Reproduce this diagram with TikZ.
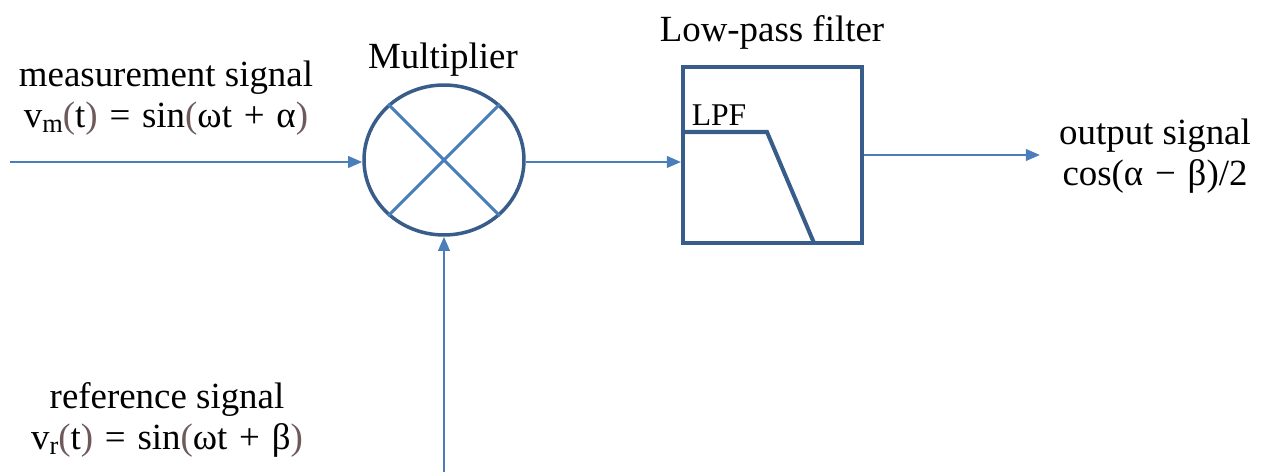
\documentclass[tikz,border=0pt]{standalone}
\usepackage{fontspec}
\setmainfont{Liberation Serif}
\usepackage{xcolor}
\definecolor{LIline}{HTML}{4A7EBB}
\definecolor{LIdeep}{HTML}{385D8A}
\definecolor{LIparen}{HTML}{6E5A5A}
\usetikzlibrary{arrows.meta, shapes.geometric, positioning}
\newcommand{\lisub}[1]{\raisebox{-0.3ex}{\fontsize{15}{15}\selectfont #1}}
\newcommand{\lip}[1]{\textcolor{LIparen}{#1}}
\newcommand{\lisp}{\hspace{0.32em}}

\begin{document}
\begin{tikzpicture}[x=0.02cm, y=-0.02cm]
  \tikzset{
    sig/.style={-{Triangle[length=8pt, width=6.5pt]}, LIline, line width=1.4pt},
    blockline/.style={LIdeep, line width=2pt},
    lbl/.style={font=\fontsize{21}{23}\selectfont, align=center, inner sep=0pt},
  }
  \useasboundingbox (0,0) rectangle (1262,472);

  % Multiplier (ellipse with cross)
  \node[draw, blockline, ellipse, minimum width=3.2cm, minimum height=3cm, inner sep=0pt] (mult) at (444,160) {};
  \draw[LIline, line width=1.7pt] (mult.45) -- (mult.225);
  \draw[LIline, line width=1.7pt] (mult.135) -- (mult.315);
  \node[lbl] (multname) at (443,60) {Multiplier};

  % Low-pass filter box
  \node[draw, blockline, line width=2.3pt, rectangle, minimum width=3.58cm, minimum height=3.52cm, inner sep=0pt] (lpf) at (772.5,155) {};
  \coordinate (knee) at (767,132);
  \coordinate (roll) at (814,243);
  \draw[blockline, line width=2.3pt] (knee -| lpf.west) -- (knee) -- (roll);
  \node[lbl, font=\fontsize{18}{20}\selectfont] (lpftag) at (719,115) {LPF};
  \node[lbl] (lpfname) at (772,32) {Low-pass filter};

  % Signals
  \coordinate (inm) at (10,162);
  \coordinate (inr) at (444,472);
  \coordinate (outs) at (1040,155);
  \draw[sig] (inm) -- (inm -| mult.west);
  \draw[sig] (mult.east |- 0,162) -- (lpf.west |- 0,162);
  \draw[sig] (inr) -- (mult.south);
  \draw[sig] (lpf.east) -- (outs);

  % Labels
  \node[lbl] (meas) at (166,98) {measurement signal\\v\lisub{m}\lip{(}t\lip{)}\lisp=\lisp sin\lip{(}ωt\lisp+\lisp α\lip{)}};
  \node[lbl] (ref) at (167,420) {reference signal\\v\lisub{r}\lip{(}t\lip{)}\lisp=\lisp sin\lip{(}ωt\lisp+\lisp β\lip{)}};
  \node[lbl] (outl) at (1155,156) {output signal\\cos(α\lisp−\lisp β)/2};
\end{tikzpicture}
\end{document}
